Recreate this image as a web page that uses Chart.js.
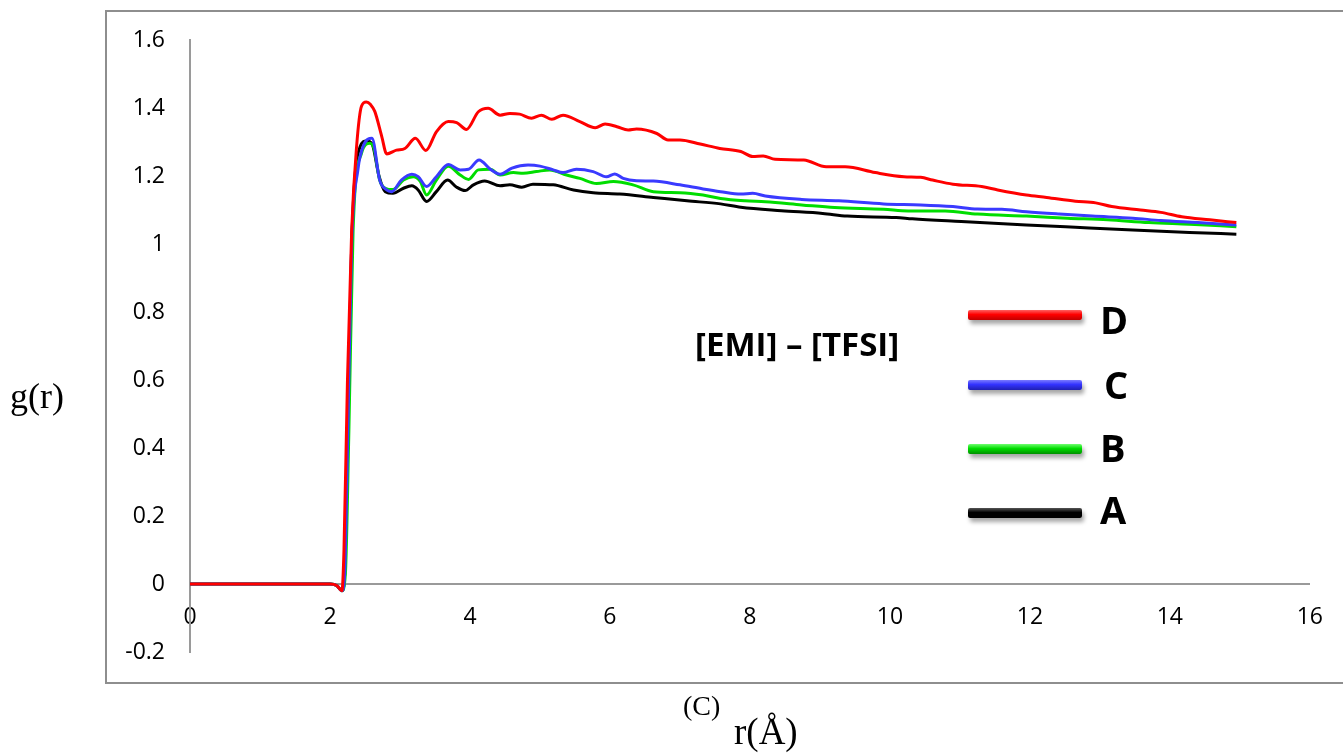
<!DOCTYPE html>
<html>
<head>
<meta charset="utf-8">
<script src="https://cdn.jsdelivr.net/npm/chart.js@4.4.1/dist/chart.umd.min.js"></script>
<style>
  html, body { margin: 0; padding: 0; background: #fff; overflow: hidden; }
  #wrap { position: relative; width: 1343px; height: 753px; }
  #frame { position: absolute; left: 105px; top: 10px; width: 1300px; height: 674px;
           border: 2px solid #8e8e8e; box-sizing: border-box; }
  canvas { position: absolute; left: 0; top: 0; }
  .serif { position: absolute; font-family: "Liberation Serif", "DejaVu Serif", serif; color: #000; white-space: nowrap; line-height: 1; }
  .note { position: absolute; font-family: "Open Sans", sans-serif; font-weight: bold; color: #000; white-space: nowrap; line-height: 1; }
  .key { position: absolute; left: 968px; width: 114px; height: 10px; border-radius: 2px;
         box-shadow: 2px 4px 4px rgba(0,0,0,0.35); }
  .keylabel { position: absolute; font-family: "Open Sans", sans-serif; font-weight: bold; font-size: 38px; color: #000; line-height: 1; }
</style>
</head>
<body>
<div id="wrap">
  <div id="frame"></div>
  <canvas id="rdf" width="1343" height="753"></canvas>
  <div class="serif" style="left:10px; top:378px; font-size:36px;">g(r)</div>
  <div class="serif" style="left:683px; top:692px; font-size:28px;">(C)</div>
  <div class="serif" style="left:734px; top:713px; font-size:37px;">r(Å)</div>
  <div class="note" style="left:695px; top:327px; font-size:33px;">[EMI] – [TFSI]</div>

  <div class="key" style="top:310px; background:linear-gradient(#ff6060,#ff0000 45%,#c00000);"></div>
  <div class="key" style="top:380px; background:linear-gradient(#7a7aff,#3333ff 45%,#2020b0);"></div>
  <div class="key" style="top:444px; background:linear-gradient(#70ff70,#00dd00 45%,#009000);"></div>
  <div class="key" style="top:508px; background:linear-gradient(#555,#000 45%,#000);"></div>
  <div class="keylabel" style="left:1100px; top:300px;">D</div>
  <div class="keylabel" style="left:1104px; top:365px;">C</div>
  <div class="keylabel" style="left:1100px; top:428px;">B</div>
  <div class="keylabel" style="left:1100px; top:490px;">A</div>
</div>
<script>
// r (Å) and g(r), one pair of arrays per curve
const rD = [0, 1, 2, 2.1, 2.17, 2.2, 2.25, 2.31, 2.38, 2.45, 2.52, 2.58, 2.64, 2.74, 2.81, 2.95, 3.07, 3.22, 3.37, 3.52, 3.69, 3.81, 3.95, 4.12, 4.26, 4.43, 4.57, 4.71, 4.88, 5.02, 5.17, 5.33, 5.57, 5.79, 5.93, 6.1, 6.26, 6.38, 6.67, 6.83, 7.0, 7.29, 7.57, 7.87, 8.04, 8.19, 8.36, 8.77, 9.09, 9.36, 9.79, 10.2, 10.44, 10.61, 10.9, 11.31, 11.54, 11.95, 12.24, 12.65, 12.94, 13.17, 13.58, 13.87, 14.17, 14.57, 14.95];
const gD = [0, 0, 0, -0.005, -0.02, 0.1, 0.6, 1.04, 1.286, 1.405, 1.418, 1.41, 1.39, 1.316, 1.265, 1.276, 1.281, 1.311, 1.275, 1.33, 1.36, 1.357, 1.337, 1.389, 1.399, 1.379, 1.384, 1.382, 1.37, 1.379, 1.367, 1.379, 1.36, 1.342, 1.353, 1.345, 1.335, 1.338, 1.325, 1.306, 1.306, 1.294, 1.281, 1.272, 1.257, 1.259, 1.249, 1.247, 1.227, 1.227, 1.21, 1.198, 1.196, 1.188, 1.176, 1.169, 1.159, 1.144, 1.137, 1.126, 1.121, 1.11, 1.1, 1.093, 1.08, 1.071, 1.063];

const rC = [0, 1, 2, 2.1, 2.17, 2.21, 2.26, 2.31, 2.4, 2.48, 2.6, 2.71, 2.81, 2.88, 3.02, 3.17, 3.26, 3.38, 3.52, 3.69, 3.86, 3.98, 4.13, 4.29, 4.43, 4.6, 4.83, 5.0, 5.19, 5.33, 5.52, 5.76, 5.95, 6.07, 6.19, 6.38, 6.62, 7.0, 7.33, 7.58, 7.87, 8.04, 8.22, 8.74, 9.27, 9.91, 10.44, 10.9, 11.25, 11.6, 11.95, 12.42, 12.89, 13.47, 13.87, 14.4, 14.95];
const gC = [0, 0, 0, -0.005, -0.02, 0.03, 0.5, 1.0, 1.22, 1.29, 1.311, 1.188, 1.159, 1.154, 1.188, 1.205, 1.198, 1.169, 1.198, 1.234, 1.218, 1.22, 1.247, 1.22, 1.205, 1.223, 1.232, 1.229, 1.218, 1.21, 1.22, 1.213, 1.198, 1.206, 1.193, 1.186, 1.185, 1.174, 1.162, 1.154, 1.147, 1.149, 1.141, 1.131, 1.127, 1.118, 1.115, 1.11, 1.103, 1.102, 1.095, 1.088, 1.082, 1.076, 1.069, 1.063, 1.056];

const rB = [0, 1, 2, 2.1, 2.17, 2.22, 2.27, 2.33, 2.45, 2.57, 2.63, 2.71, 2.79, 2.9, 3.05, 3.19, 3.29, 3.38, 3.52, 3.69, 3.86, 3.98, 4.12, 4.29, 4.43, 4.62, 4.76, 4.95, 5.14, 5.38, 5.57, 5.81, 6.05, 6.33, 6.62, 7.0, 7.33, 7.58, 7.93, 8.22, 8.74, 9.21, 9.91, 10.26, 10.79, 11.25, 11.95, 12.54, 13.11, 13.7, 14.28, 14.95];
const gB = [0, 0, 0, -0.005, -0.02, 0.03, 0.45, 1.04, 1.267, 1.296, 1.28, 1.188, 1.164, 1.16, 1.188, 1.198, 1.184, 1.144, 1.188, 1.229, 1.203, 1.19, 1.218, 1.22, 1.203, 1.21, 1.208, 1.213, 1.218, 1.203, 1.193, 1.178, 1.184, 1.174, 1.154, 1.151, 1.144, 1.134, 1.127, 1.124, 1.115, 1.107, 1.102, 1.097, 1.097, 1.088, 1.082, 1.076, 1.071, 1.063, 1.058, 1.051];

const rA = [0, 1, 2, 2.1, 2.17, 2.21, 2.26, 2.31, 2.43, 2.52, 2.6, 2.7, 2.79, 2.9, 3.05, 3.17, 3.26, 3.38, 3.52, 3.68, 3.81, 3.93, 4.05, 4.21, 4.43, 4.57, 4.74, 4.9, 5.19, 5.48, 5.76, 6.14, 6.62, 7.1, 7.58, 7.87, 8.45, 9.04, 9.39, 10.09, 10.32, 11.02, 11.95, 12.65, 13.47, 14.28, 14.95];
const gA = [0, 0, 0, -0.005, -0.02, 0.03, 0.5, 1.0, 1.286, 1.303, 1.295, 1.2, 1.154, 1.149, 1.164, 1.171, 1.159, 1.125, 1.154, 1.188, 1.167, 1.157, 1.174, 1.185, 1.171, 1.174, 1.167, 1.176, 1.174, 1.159, 1.151, 1.147, 1.137, 1.127, 1.118, 1.108, 1.098, 1.09, 1.082, 1.078, 1.074, 1.066, 1.056, 1.049, 1.041, 1.034, 1.029];

const xTicks = [0, 2, 4, 6, 8, 10, 12, 14, 16];
const yTicks = [-0.2, 0, 0.2, 0.4, 0.6, 0.8, 1, 1.2, 1.4, 1.6];

function pts(rs, gs) {
    return rs.map((r, i) => ({ x: r, y: gs[i] }));
}

function curve(label, rs, gs, color) {
    return {
        label: label,
        data: pts(rs, gs),
        borderColor: color,
        borderWidth: 3,
        pointRadius: 0,
        showLine: true,
        fill: false,
        cubicInterpolationMode: "monotone",
    };
}

const ctx = document.getElementById("rdf").getContext("2d");

new Chart(ctx, {
    type: "scatter",
    data: {
        datasets: [
            curve("D", rD, gD, "#ff0000"),
            curve("C", rC, gC, "#3a3aff"),
            curve("B", rB, gB, "#00dd00"),
            curve("A", rA, gA, "#000000"),
        ],
    },
    options: {
        responsive: false,
        animation: false,
        layout: { padding: { left: 0, top: 40, right: 33, bottom: 101 } },
        plugins: { legend: { display: false }, tooltip: { enabled: false } },
        scales: {
            x: {
                type: "linear",
                min: 0,
                max: 16,
                position: { y: 0 },
                afterFit: (s) => { s.height = 0; },
                afterBuildTicks: (s) => { s.ticks = xTicks.map(v => ({ value: v })); },
                grid: { display: false, drawTicks: false },
                border: { display: true, color: "#9a9a9a", width: 2 },
                ticks: {
                    padding: 20,
                    color: "#000",
                    font: { family: "Open Sans", size: 23 },
                    callback: (v) => String(v),
                },
            },
            y: {
                type: "linear",
                min: -0.2,
                max: 1.6,
                afterFit: (s) => { s.width = 190; },
                afterBuildTicks: (s) => { s.ticks = yTicks.map(v => ({ value: v })); },
                grid: { display: false, drawTicks: false },
                border: { display: true, color: "#9a9a9a", width: 2 },
                ticks: {
                    padding: 25,
                    color: "#000",
                    font: { family: "Open Sans", size: 23 },
                    callback: (v) => String(v),
                },
            },
        },
    },
});
</script>
</body>
</html>
